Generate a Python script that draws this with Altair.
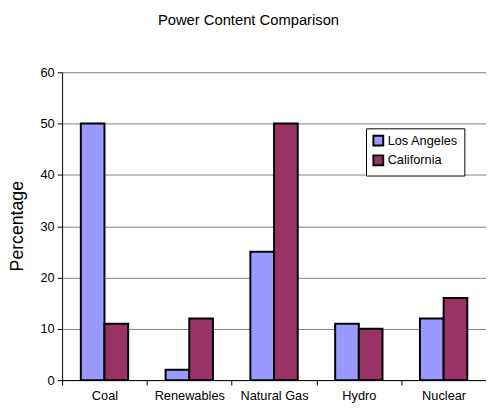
import altair as alt
import pandas as pd

categories = ["Coal", "Renewables", "Natural Gas", "Hydro", "Nuclear"]
series = ["Los Angeles", "California"]
los_angeles = [50, 2, 25, 11, 12]
california = [11, 12, 50, 10, 16]
colors = ["#9999FF", "#993366"]

rows = []
for c, v in zip(categories, los_angeles):
    rows.append({"Source": c, "Region": "Los Angeles", "Value": v})
for c, v in zip(categories, california):
    rows.append({"Source": c, "Region": "California", "Value": v})
df = pd.DataFrame(rows)

FONT = "Liberation Sans"

chart = alt.Chart(df).mark_bar(stroke="black", strokeWidth=2).encode(
    x=alt.X("Source:N", sort=categories,
            scale=alt.Scale(paddingInner=0, paddingOuter=0),
            axis=alt.Axis(title=None, labelAngle=0, tickBand="extent",
                          tickSize=5, tickColor="black", domainColor="black",
                          labelFontSize=13, labelColor="black", labelPadding=5,
                          labelFont=FONT)),
    xOffset=alt.XOffset("Region:N", sort=series,
                        scale=alt.Scale(paddingInner=0, paddingOuter=0.79)),
    y=alt.Y("Value:Q", scale=alt.Scale(domain=[0, 60]),
            axis=alt.Axis(title="Percentage", values=[0, 10, 20, 30, 40, 50, 60],
                          grid=True, gridColor="#808080", gridWidth=1,
                          tickSize=5, tickColor="black", domainColor="black",
                          labelFontSize=13, labelColor="black", labelPadding=3,
                          labelFont=FONT, titleFont=FONT, titleFontSize=18,
                          titleFontWeight="normal", titleColor="black",
                          titleX=-45, titleY=156, titleAlign="center",
                          titleBaseline="middle")),
    color=alt.Color("Region:N", sort=series,
                    scale=alt.Scale(domain=series, range=colors),
                    legend=alt.Legend(title=None, orient="none", legendX=309, legendY=57,
                                      fillColor="white", strokeColor="black",
                                      padding=6, symbolType="square", symbolSize=100,
                                      symbolStrokeColor="black", symbolStrokeWidth=2,
                                      labelFontSize=13, labelFont=FONT, labelOffset=3,
                                      labelColor="black", rowPadding=1)),
).properties(
    width=431,
    height=313,
    title=alt.TitleParams("Power Content Comparison", font=FONT, fontSize=15,
                          fontWeight="normal", color="black", anchor="middle",
                          dx=-26, offset=39),
    autosize=alt.AutoSizeParams(type="none"),
    padding={"left": 55, "top": 62, "right": 0, "bottom": 24},
).configure_view(stroke=None)

chart.save("out.html", embed_options={"renderer": "svg", "actions": False})
